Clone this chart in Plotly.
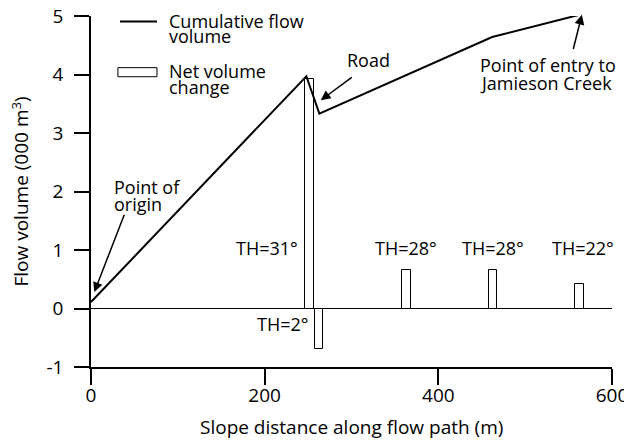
import plotly.graph_objects as go

# ---- data ----
flow_x = [0, 248, 263, 462, 565]
flow_y = [0.11, 3.97, 3.33, 4.64, 5.03]

bar_x = [252, 262.5, 363, 463, 562.5]
bar_y = [3.93, -0.69, 0.66, 0.66, 0.42]
th_labels = ["TH=31°", "TH=2°", "TH=28°", "TH=28°", "TH=22°"]

x_ticks = [0, 200, 400, 600]
y_ticks = [-1, 0, 1, 2, 3, 4, 5]
y_tick_labels = ["-1", "0", "1", "2", "3", "4", "5"]

FONT = "Open Sans"
BLACK = "#000000"

fig = go.Figure()

fig.add_trace(go.Bar(
    x=bar_x, y=bar_y, width=10,
    marker=dict(color="white", line=dict(color=BLACK, width=1)),
    showlegend=False, hoverinfo="skip"))

fig.add_trace(go.Scatter(
    x=flow_x, y=flow_y, mode="lines",
    line=dict(color=BLACK, width=2),
    cliponaxis=False, showlegend=False, hoverinfo="skip"))

ann = []
# TH labels positioned relative to bars
th_pos = [  # (xanchor, xshift, y)
    ("right", -5, 1.03),
    ("right", -5, -0.27),
    ("center", 0, 1.03),
    ("center", 0, 1.03),
    ("center", 4, 1.03),
]
for bx, lab, (xa, xs, yy) in zip(bar_x, th_labels, th_pos):
    ann.append(dict(x=bx - (5 if xa == "right" else 0), y=yy, xref="x", yref="y",
                    text=lab, showarrow=False,
                    xanchor=xa, yanchor="middle", xshift=xs,
                    font=dict(family=FONT, size=18, color=BLACK)))

def txt(x, y, s, xa="left"):
    ann.append(dict(x=x, y=y, xref="x", yref="y", text=s, showarrow=False,
                    xanchor=xa, yanchor="middle",
                    font=dict(family=FONT, size=18, color=BLACK)))

# legend texts
txt(88, 4.92, "Cumulative flow")
txt(88, 4.65, "volume")
txt(88, 4.065, "Net volume")
txt(88, 3.78, "change")
# callout texts
txt(24, 2.08, "Point of")
txt(24, 1.79, "origin")
txt(319, 4.24, "Road", xa="center")
txt(446, 4.17, "Point of entry to")
txt(446, 3.86, "Jamieson Creek")

def arrow(hx, hy, tx, ty):
    ann.append(dict(x=hx, y=hy, ax=tx, ay=ty, xref="x", yref="y",
                    axref="x", ayref="y", text="", showarrow=True,
                    arrowhead=2, arrowsize=1.3, arrowwidth=1.5,
                    arrowcolor=BLACK, standoff=0))

arrow(3.8, 0.28, 39, 1.63)
arrow(264.6, 3.56, 302, 3.97)
arrow(565.3, 5.02, 555, 4.41)

# axis titles
ann.append(dict(x=0, y=0.5, xref="paper", yref="paper", xshift=-71,
                text="Flow volume (000 m<sup>3</sup>)", textangle=-90,
                showarrow=False, xanchor="center", yanchor="middle",
                font=dict(family=FONT, size=19, color=BLACK)))
ann.append(dict(x=0.5, y=0, xref="paper", yref="paper", yshift=-60,
                text="Slope distance along flow path (m)",
                showarrow=False, xanchor="center", yanchor="middle",
                font=dict(family=FONT, size=19, color=BLACK)))

shapes = [
    dict(type="line", xref="x", yref="y", x0=33.4, x1=76, y0=4.905, y1=4.905,
         line=dict(color=BLACK, width=2)),
    dict(type="rect", xref="x", yref="y", x0=31, x1=76, y0=3.962, y1=4.117,
         line=dict(color=BLACK, width=1), fillcolor="white"),
]

# page body has an 8px margin; figure sized/margined to compensate
fig.update_layout(
    template="none",
    width=624, height=437,
    margin=dict(l=83, r=20, t=8, b=78, autoexpand=False),
    paper_bgcolor="white", plot_bgcolor="white",
    font=dict(family=FONT, color=BLACK),
    annotations=ann, shapes=shapes, bargap=0, showlegend=False,
)
fig.update_xaxes(range=[0, 600], tickvals=x_ticks, showline=True, automargin=False,
                 linecolor=BLACK, linewidth=1.5, ticks="outside", ticklen=16,
                 tickwidth=1.5, tickcolor=BLACK, showgrid=False, zeroline=False,
                 ticklabeloverflow="allow", ticklabelstandoff=-6,
                 tickfont=dict(family=FONT, size=19, color=BLACK))
fig.update_yaxes(range=[-1, 5], tickvals=y_ticks, ticktext=y_tick_labels,
                 showline=True, automargin=False,
                 linecolor=BLACK, linewidth=1.5, ticks="outside", ticklen=15,
                 tickwidth=1.5, tickcolor=BLACK, showgrid=False, zeroline=True,
                 zerolinecolor=BLACK, zerolinewidth=1.2,
                 ticklabeloverflow="allow", ticklabelstandoff=7,
                 tickfont=dict(family=FONT, size=19, color=BLACK))

fig.write_html("out.html")
